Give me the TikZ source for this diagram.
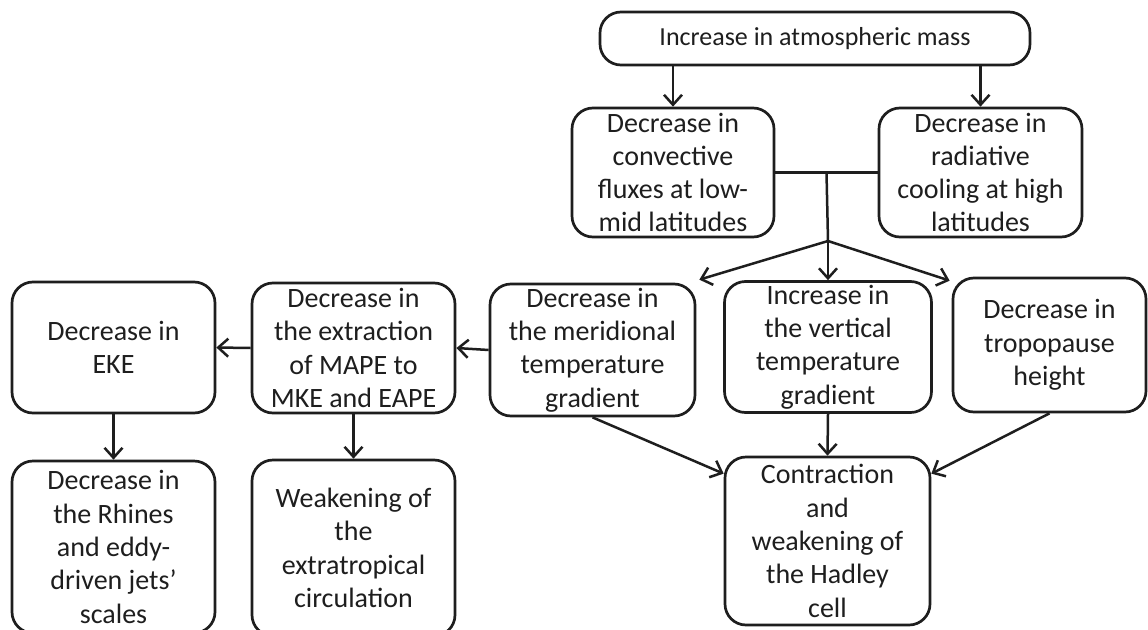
\documentclass[tikz,border=0pt]{standalone}
\usepackage{fontspec}
\setmainfont{Carlito}
\usepackage{tikz}
\usetikzlibrary{arrows.meta,calc,positioning}
\definecolor{FlowInk}{HTML}{1E1E1E}

\begin{document}
\begin{tikzpicture}[
  x=1pt,y=-1pt,
  every node/.style={font=\fontsize{28}{33.3}\selectfont,text=FlowInk},
  box/.style={draw=FlowInk,line width=2.7pt,rounded corners=21pt,fill=white,
    align=center,inner sep=0pt},
  arrow/.style={-{Straight Barb[length=10pt,width=18pt]},line width=2.5pt,color=FlowInk},
  link/.style={line width=2.5pt,color=FlowInk}
]
\clip (0,0) rectangle (1148,629);
\fill[white] (0,0) rectangle (1148,629);

% causes
\node[box,minimum width=430,minimum height=53,
  font=\fontsize{26}{31}\selectfont] (mass) at (815,38.5)
  {Increase in atmospheric mass};
\node[box,minimum width=202,minimum height=129] (conv) at (673,172.5)
  {Decrease in\\convective\\fluxes at low-\\mid latitudes};
\node[box,minimum width=203,minimum height=129] (rad) at (980.5,172.5)
  {Decrease in\\radiative\\cooling at high\\latitudes};

% thermal response
\node[box,minimum width=205,minimum height=132] (merid) at (592.5,350)
  {Decrease in\\the meridional\\temperature\\gradient};
\node[box,minimum width=207,minimum height=131] (vert) at (828,347)
  {Increase in\\the vertical\\temperature\\gradient};
\node[box,minimum width=193,minimum height=134] (trop) at (1049.5,345)
  {Decrease in\\tropopause\\height};

% extratropics
\node[box,minimum width=203,minimum height=130] (mape) at (353.5,348)
  {Decrease in\\the extraction\\of MAPE to\\MKE and EAPE};
\node[box,minimum width=203,minimum height=131] (eke) at (113.5,347.5)
  {Decrease in\\EKE};
\node[box,minimum width=203,minimum height=172] (rhines) at (113.5,547)
  {Decrease in\\the Rhines\\and eddy-\\driven jets'\\scales};
\node[box,minimum width=203,minimum height=176] (extra) at (353.5,548)
  {Weakening of\\the\\extratropical\\circulation};

% tropics
\node[box,minimum width=205,minimum height=168] (hadley) at (827.5,541)
  {Contraction\\and\\weakening of\\the Hadley\\cell};

\coordinate (split) at (828,241);

\draw[arrow] (conv.north |- mass.south) -- (conv.north);
\draw[arrow] (rad.north |- mass.south) -- (rad.north);
\draw[link] (conv.east) -- (rad.west);
\draw[link] ($(conv.east)!0.5!(rad.west)$) -- (split);
\draw[arrow] (split) -- ([xshift=3,yshift=3]merid.north east);
\draw[arrow] (split) -- (vert.north);
\draw[arrow] (split) -- ([xshift=-2,yshift=-4]trop.north west);

\draw[arrow] (merid.west) -- (mape.east);
\draw[arrow] (mape.west) -- (eke.east);
\draw[arrow] (eke.south) -- (rhines.north);
\draw[arrow] (mape.south) -- (extra.north);

\draw[arrow] (merid.south) -- ([yshift=-18]hadley.north west);
\draw[arrow] (vert.south) -- (hadley.north);
\draw[arrow] (trop.south) -- ([yshift=-18]hadley.north east);
\end{tikzpicture}
\end{document}
